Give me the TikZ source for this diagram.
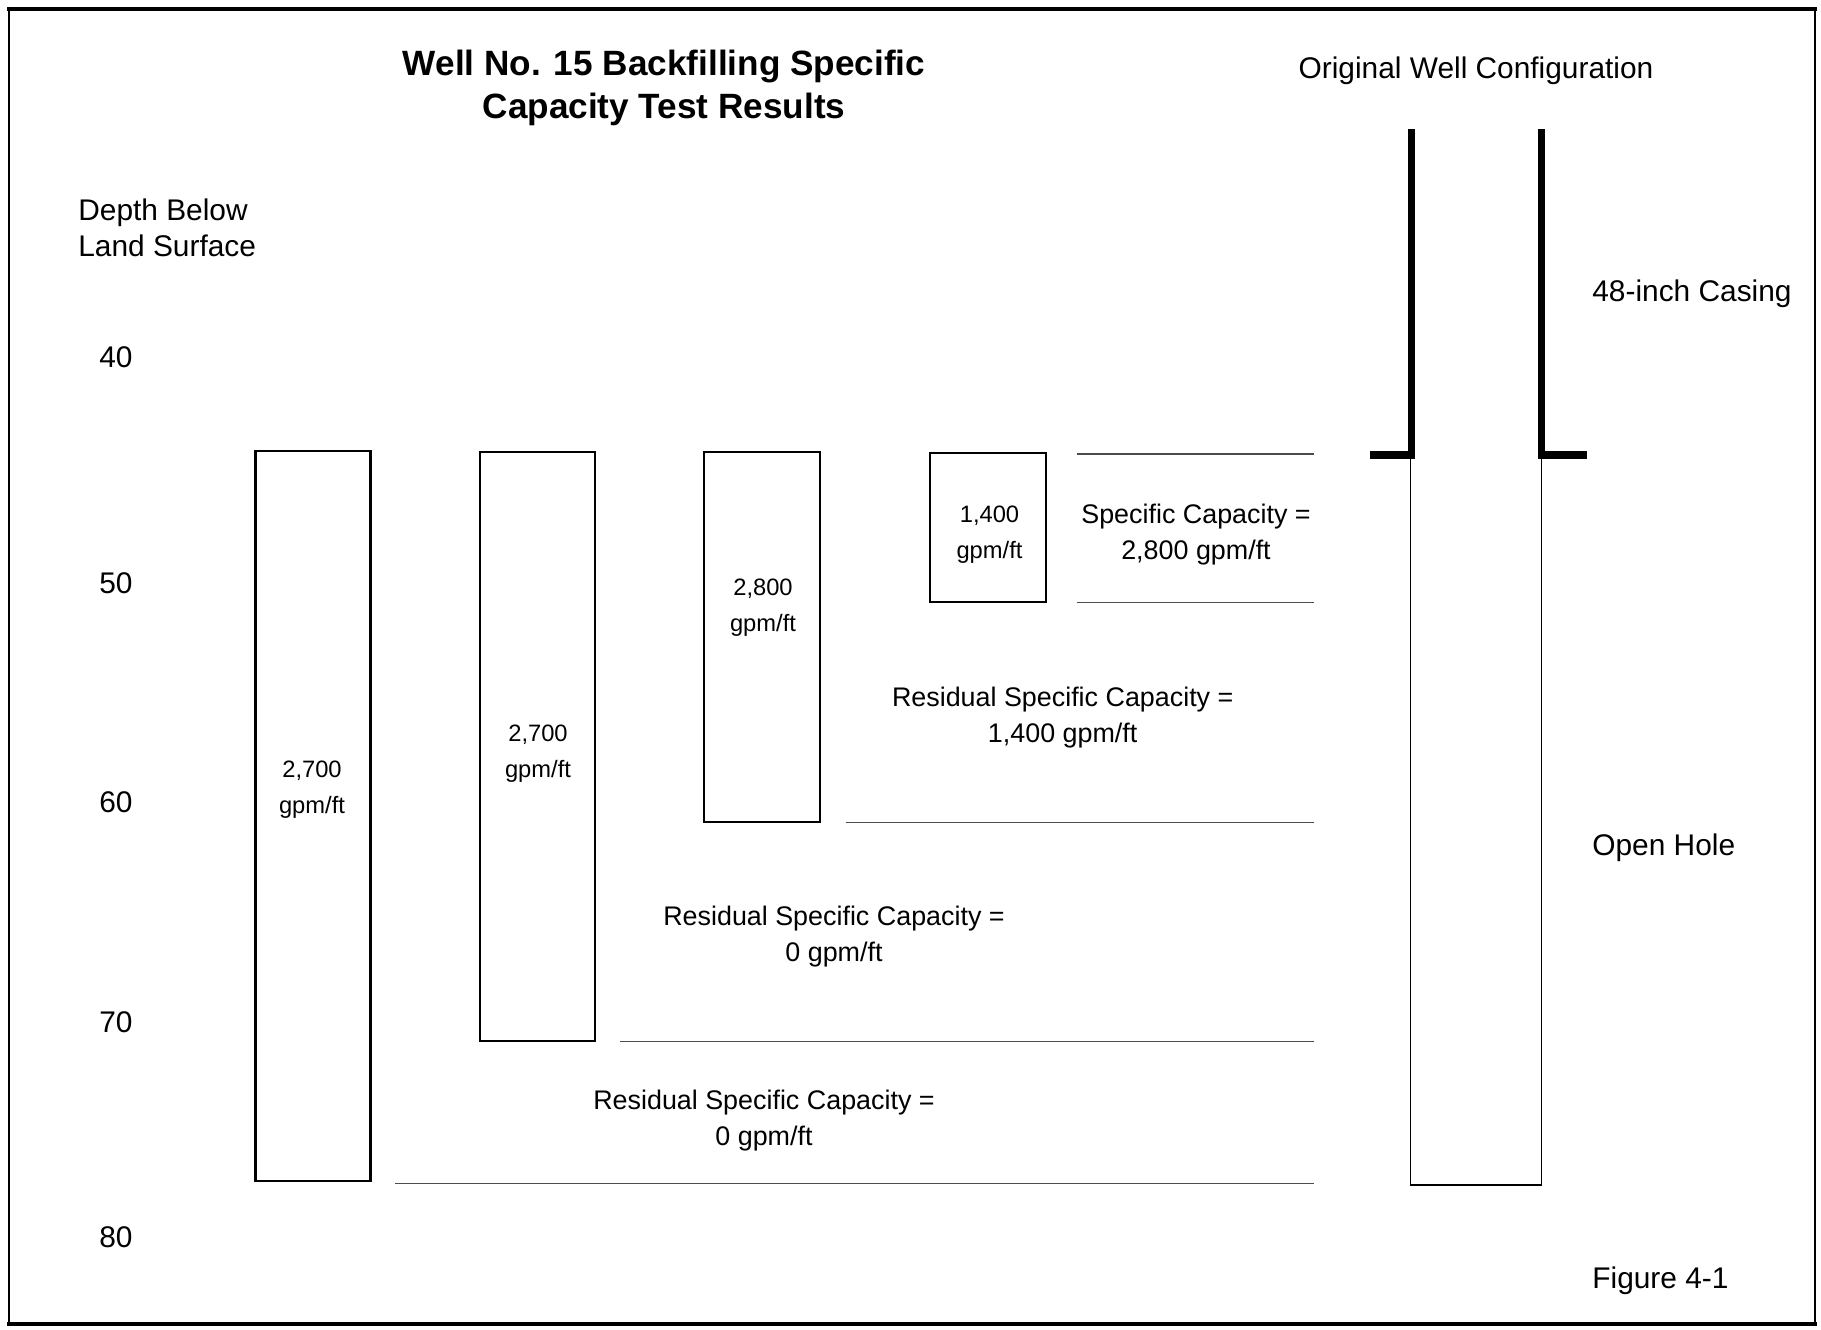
\documentclass[tikz,border=0pt]{standalone}
\usepackage{fontspec}
\setmainfont{Liberation Sans}
\begin{document}
\begin{tikzpicture}[x=0.02cm,y=-0.02cm,
  box/.style={draw=black,line width=1.2pt},
  guide/.style={draw=black!70,line width=0.7pt},
  casing/.style={line width=4pt,line join=miter},
  hole/.style={line width=1.1pt},
  big/.style={font=\fontsize{17}{20.5}\selectfont,inner sep=0pt,align=left},
  val/.style={font=\fontsize{13.5}{20.5}\selectfont,inner sep=0pt,align=center},
  res/.style={font=\fontsize{15.3}{20.5}\selectfont,inner sep=0pt,align=center}]
\useasboundingbox (0,0) rectangle (1821,1329);
% frame
\draw[line width=1.6pt] (9,9) rectangle (1815,1324);
\draw[line width=2.8pt] (7,9) -- (1817,9);
\draw[line width=2.8pt] (7,1324) -- (1817,1324);
% titles
\node[font=\fontsize{20}{24.5}\selectfont\bfseries,align=center,inner sep=0pt] (title) at (664,87.5) {Well No. 15 Backfilling Specific\\Capacity Test Results};
\node[big] (orig) at (1476,70.5) {Original Well Configuration};
\node[big,anchor=west] (depth) at (78,228) {Depth Below\\Land Surface};
% depth scale
\node[big] (d40) at (116,357) {40};
\node[big] (d50) at (116,583) {50};
\node[big] (d60) at (116,802) {60};
\node[big] (d70) at (116,1022) {70};
\node[big] (d80) at (116,1237) {80};
% boxes
\draw[box] (255.5,450.6) rectangle (370.5,1181);
\draw[box] (479.7,451.8) rectangle (594.6,1040.6);
\draw[box] (703.8,451.8) rectangle (820,822.3);
\draw[box] (930.3,453) rectangle (1046.4,601.6);
\node[val] (v1) at (312,789.5) {2,700\\gpm/ft};
\node[val] (v2) at (538,753.5) {2,700\\gpm/ft};
\node[val] (v3) at (763,608) {2,800\\gpm/ft};
\node[val] (v4) at (989.5,534.5) {1,400\\gpm/ft};
% guide lines
\draw[guide] (1076.6,454) -- (1313.6,454);
\draw[guide] (1076.6,602.8) -- (1313.6,602.8);
\draw[guide] (845.5,822.3) -- (1313.6,822.3);
\draw[guide] (620,1041.8) -- (1313.6,1041.8);
\draw[guide] (395,1183.5) -- (1313.6,1183.5);
% results
\node[res] (r1) at (1196,534.5) {Specific Capacity =\\2,800 gpm/ft};
\node[res] (r2) at (1062.7,717.2) {Residual Specific Capacity =\\1,400 gpm/ft};
\node[res] (r3) at (834,936.5) {Residual Specific Capacity =\\0 gpm/ft};
\node[res] (r4) at (764,1120.8) {Residual Specific Capacity =\\0 gpm/ft};
% well
\draw[hole] (1410.5,455) -- (1410.5,1184.6) -- (1541.5,1184.6) -- (1541.5,455);
\draw[casing] (1370,455) -- (1411,455) -- (1411,129);
\draw[casing] (1541.5,129) -- (1541.5,455) -- (1587,455);
\node[big,anchor=west] (cas) at (1592,293.5) {48-inch Casing};
\node[big,anchor=west] (oh) at (1592,847.5) {Open Hole};
\node[big,anchor=west] (fig) at (1592,1281) {Figure 4-1};
\end{tikzpicture}
\end{document}
